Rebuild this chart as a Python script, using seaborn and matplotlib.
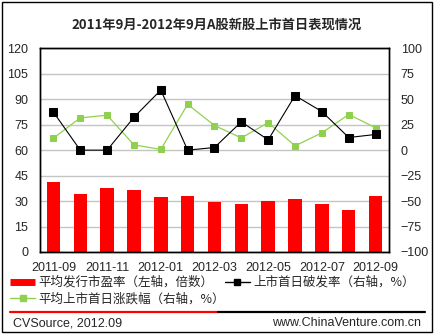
import numpy as np
import pandas as pd
import matplotlib
matplotlib.use("Agg")
import matplotlib.pyplot as plt
from matplotlib.lines import Line2D
from matplotlib.patches import Rectangle
import seaborn as sns

# Monthly data, 2011-09 .. 2012-09
months = ["2011-09", "2011-10", "2011-11", "2011-12", "2012-01", "2012-02", "2012-03",
          "2012-04", "2012-05", "2012-06", "2012-07", "2012-08", "2012-09"]
avg_pe = [41.5, 34.2, 37.6, 36.6, 32.4, 33.0, 29.5, 28.3, 30.0, 31.3, 28.3, 24.8, 33.2]
break_rate = [37.3, 0.0, 0.0, 32.3, 59.0, 0.0, 2.6, 27.8, 10.1, 53.6, 37.9, 12.4, 15.4]
first_day_return = [11.8, 31.7, 34.3, 5.2, 0.7, 45.0, 24.2, 12.0, 27.0, 4.2, 17.0, 35.0, 22.0]

left_ticks = list(range(0, 121, 15))
right_ticks = list(range(-100, 101, 25))

title = "2011年9月-2012年9月A股新股上市首日表现情况"
lbl_pe = "平均发行市盈率（左轴，倍数）"
lbl_break = "上市首日破发率（右轴，%）"
lbl_ret = "平均上市首日涨跌幅（右轴，%）"

df = pd.DataFrame({"month": months, "pos": np.arange(len(months)),
                   "pe": avg_pe, "break": break_rate, "ret": first_day_return})

sns.set_style("white")
plt.rcParams["font.family"] = ["Liberation Sans", "Noto Sans CJK SC", "DejaVu Sans"]

W, H = 435, 335
fig = plt.figure(figsize=(W / 100, H / 100), dpi=100)
ax = fig.add_axes([40 / W, 1 - 252 / H, (389 - 40) / W, (252 - 48.3) / H])
ax2 = ax.twinx()

ax.set_axisbelow(True)
sns.barplot(data=df, x="month", y="pe", color="#FF0000", saturation=1,
            width=0.5, ax=ax, edgecolor="none")

green = "#8FD14F"
sns.lineplot(data=df, x="pos", y="ret", ax=ax2, color=green, lw=0.9,
             marker="s", markersize=4.5, markeredgecolor=green)
sns.lineplot(data=df, x="pos", y="break", ax=ax2, color="black", lw=0.8,
             marker="s", markersize=5.5, markeredgecolor="black")

ax.set_xlim(-0.5, len(months) - 0.5)
ax.set_ylim(0, 120)
ax.set_yticks(left_ticks)
ax2.set_ylim(-100, 100)
ax2.set_yticks(right_ticks)
ax.set_xticks(np.arange(0, len(months), 2))
ax.set_xticklabels(months[::2])
for a in (ax, ax2):
    a.set_xlabel("")
    a.set_ylabel("")
    for s in a.spines.values():
        s.set_color("black")
        s.set_linewidth(1)
ax.yaxis.grid(True, color="#C4C4C4", lw=1)
ax.tick_params(axis="y", length=0, pad=8.5, labelsize=9)
ax.tick_params(axis="x", length=0, pad=7, labelsize=9)
ax2.tick_params(axis="y", length=0, pad=8.5, labelsize=9)

fig.text(217 / W, 1 - 25 / H, title, ha="center", va="center", fontsize=9.5,
         fontweight="bold", family=["Noto Sans CJK SC", "DejaVu Sans"])

# Legend entries
h_pe = Line2D([], [], color="#FF0000", lw=5, solid_capstyle="butt")
h_break = Line2D([], [], color="black", lw=1, marker="s", markersize=4)
h_ret = Line2D([], [], color=green, lw=1, marker="s", markersize=4)
leg_kw = dict(frameon=False, handlelength=2.0, handletextpad=0.3,
              borderpad=0, borderaxespad=0, labelspacing=0.3,
              prop={"family": ["Noto Sans CJK SC", "DejaVu Sans"], "size": 9})
fig.legend([h_pe, h_ret], [lbl_pe, lbl_ret], loc="upper left",
           bbox_to_anchor=(10 / W, 1 - 276 / H), **leg_kw)
fig.legend([h_break], [lbl_break], loc="upper left",
           bbox_to_anchor=(225 / W, 1 - 276 / H), **leg_kw)

# Divider and footer
fig.add_artist(Line2D([10 / W, 218 / W], [1 - 312 / H] * 2, color="#FF0000", lw=1.6))
fig.add_artist(Line2D([218 / W, 425 / W], [1 - 312 / H] * 2, color="black", lw=1.6))
fig.text(13 / W, 1 - 323 / H, "CVSource, 2012.09", ha="left", va="center", fontsize=9)
fig.text(421 / W, 1 - 323 / H, "www.ChinaVenture.com.cn", ha="right", va="center", fontsize=9)

fig.add_artist(Rectangle((2 / W, 3 / H), 430 / W, 330 / H, transform=fig.transFigure,
                         fill=False, edgecolor="black", lw=1))

fig.savefig("out.png", dpi=100)
